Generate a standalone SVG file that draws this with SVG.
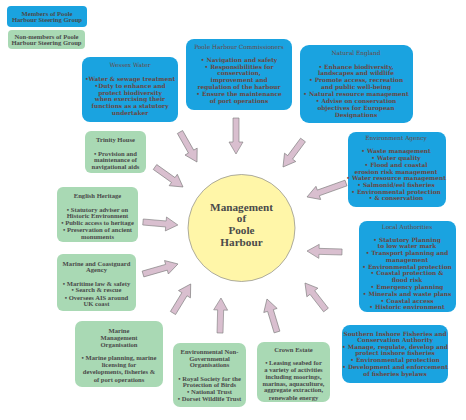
<svg xmlns="http://www.w3.org/2000/svg" width="466" height="420" viewBox="0 0 466 420">
<style>
.bb{fill:#1aa3e0}
.gb{fill:#a9d9b4}
.arr{fill:#d9bfcf;stroke:#7a7a7a;stroke-width:0.6}
text{text-anchor:middle}
.b{font-family:"DejaVu Serif",serif;font-weight:bold;font-size:5.8px;fill:#6a4640}
.bt{font-family:"DejaVu Serif",serif;font-size:5.8px;fill:#6a4640}
.g{font-family:"Liberation Serif",serif;font-weight:bold;font-size:6.6px;fill:#4a4a4a}
.c{font-family:"Liberation Serif",serif;font-weight:bold;font-size:11.2px;fill:#4a4a4a}
</style>
<rect width="466" height="420" fill="#ffffff"/>
<g id="legend-members"><rect class="bb" x="7" y="6" width="80" height="21" rx="4"/>
<text class="g" x="47" y="15.5">Members of Poole</text><text class="g" x="47" y="22">Harbour Steering Group</text></g>
<g id="legend-nonmembers"><rect class="gb" x="8" y="30" width="77" height="19" rx="4"/>
<text class="g" x="46.5" y="38.7">Non-members of Poole</text><text class="g" x="46.5" y="45.3">Harbour Steering Group</text></g>
<g id="connectors">
<polygon class="arr" transform="translate(236,118) rotate(90)" points="0,-3 24,-3 24,-7 36,0 24,7 24,3 0,3"/>
<polygon class="arr" transform="translate(180,132) rotate(60.5)" points="0,-3 22.5,-3 22.5,-7 34.5,0 22.5,7 22.5,3 0,3"/>
<polygon class="arr" transform="translate(303,140) rotate(126.5)" points="0,-3 21.6,-3 21.6,-7 33.6,0 21.6,7 21.6,3 0,3"/>
<polygon class="arr" transform="translate(155,167) rotate(35.5)" points="0,-3 22.4,-3 22.4,-7 34.4,0 22.4,7 22.4,3 0,3"/>
<polygon class="arr" transform="translate(346,183) rotate(160.3)" points="0,-3 29.4,-3 29.4,-7 41.4,0 29.4,7 29.4,3 0,3"/>
<polygon class="arr" transform="translate(143,222) rotate(4.9)" points="0,-3 23,-3 23,-7 35,0 23,7 23,3 0,3"/>
<polygon class="arr" transform="translate(342,252) rotate(181.6)" points="0,-3 23,-3 23,-7 35,0 23,7 23,3 0,3"/>
<polygon class="arr" transform="translate(143,274) rotate(-16)" points="0,-3 24.4,-3 24.4,-7 36.4,0 24.4,7 24.4,3 0,3"/>
<polygon class="arr" transform="translate(173,313) rotate(-58.6)" points="0,-3 22,-3 22,-7 34,0 22,7 22,3 0,3"/>
<polygon class="arr" transform="translate(220,333) rotate(-88.4)" points="0,-3 23,-3 23,-7 35,0 23,7 23,3 0,3"/>
<polygon class="arr" transform="translate(277,332) rotate(-106.9)" points="0,-3 22.5,-3 22.5,-7 34.5,0 22.5,7 22.5,3 0,3"/>
<polygon class="arr" transform="translate(326,310) rotate(-127.9)" points="0,-3 22.2,-3 22.2,-7 34.2,0 22.2,7 22.2,3 0,3"/>
</g>
<g id="center"><circle cx="241.5" cy="228" r="53.5" fill="#fff6a8" stroke="#8a8a8a" stroke-width="0.7"/>
<text class="c" x="241.5" y="210.7">Management</text><text class="c" x="241.5" y="222.3">of</text><text class="c" x="241.5" y="234">Poole</text><text class="c" x="241.5" y="245.7">Harbour</text></g>
<g id="wessex-water"><rect class="bb" x="82" y="57" width="96" height="65" rx="8"/>
<text class="bt" x="130" y="67">Wessex Water</text>
<text class="b" x="130" y="81">•Water &amp; sewage treatment</text>
<text class="b" x="130" y="88">•Duty to enhance and</text>
<text class="b" x="130" y="94.7">protect biodiversity</text>
<text class="b" x="130" y="101">when exercising their</text>
<text class="b" x="130" y="108">functions as a statutory</text>
<text class="b" x="130" y="114.7">undertaker</text></g>
<g id="harbour-commissioners"><rect class="bb" x="186" y="39" width="106" height="71" rx="8"/>
<text class="bt" x="239" y="48.7">Poole Harbour Commissioners</text>
<text class="b" x="239" y="62">• Navigation and safety</text>
<text class="b" x="239" y="68.7">• Responsibilities for</text>
<text class="b" x="239" y="75.3">conservation,</text>
<text class="b" x="239" y="82">improvement and</text>
<text class="b" x="239" y="88.7">regulation of the harbour</text>
<text class="b" x="239" y="96.3">• Ensure the maintenance</text>
<text class="b" x="239" y="103">of port operations</text></g>
<g id="natural-england"><rect class="bb" x="300" y="45" width="113" height="78" rx="9"/>
<text class="bt" x="356" y="55.3">Natural England</text>
<text class="b" x="356" y="69.3">• Enhance biodiversity,</text>
<text class="b" x="356" y="75.3">landscapes and wildlife</text>
<text class="b" x="356" y="82">• Promote access, recreation</text>
<text class="b" x="356" y="88.7">and public well-being</text>
<text class="b" x="356" y="96.3">• Natural resource management</text>
<text class="b" x="356" y="103">• Advise on conservation</text>
<text class="b" x="356" y="109.7">objectives for European</text>
<text class="b" x="356" y="117">Designations</text></g>
<g id="environment-agency"><rect class="bb" x="348" y="132" width="98" height="75" rx="8"/>
<text class="bt" x="396" y="140.3">Environment Agency</text>
<text class="b" x="396" y="152.7">• Waste management</text>
<text class="b" x="396" y="160.3">• Water quality</text>
<text class="b" x="396" y="167">• Flood and coastal</text>
<text class="b" x="396" y="173.7">erosion risk management</text>
<text class="b" x="396" y="180.3">• Water resource management</text>
<text class="b" x="396" y="187">• Salmonid/eel fisheries</text>
<text class="b" x="396" y="193.7">• Environmental protection</text>
<text class="b" x="396" y="200.3">• &amp; conservation</text></g>
<g id="local-authorities"><rect class="bb" x="359" y="221" width="97" height="91" rx="8"/>
<text class="bt" x="407" y="228.7">Local Authorities</text>
<text class="b" x="407" y="242">• Statutory Planning</text>
<text class="b" x="407" y="248">to low water mark</text>
<text class="b" x="407" y="255.3">• Transport planning and</text>
<text class="b" x="407" y="262">management</text>
<text class="b" x="407" y="269.3">• Environmental protection</text>
<text class="b" x="407" y="275.3">• Coastal protection &amp;</text>
<text class="b" x="407" y="282">flood risk</text>
<text class="b" x="407" y="289.3">• Emergency planning</text>
<text class="b" x="407" y="296">• Minerals and waste plans</text>
<text class="b" x="407" y="302.7">• Coastal access</text>
<text class="b" x="407" y="309.3">• Historic environment</text></g>
<g id="southern-ifca"><rect class="bb" x="342" y="325" width="106" height="58" rx="8"/>
<text class="b" x="395" y="336">Southern Inshore Fisheries and</text>
<text class="b" x="395" y="342">Conservation Authority</text>
<text class="b" x="395" y="349.3">• Manage, regulate, develop and</text>
<text class="b" x="395" y="355.3">protect inshore fisheries</text>
<text class="b" x="395" y="362">• Environmental protection</text>
<text class="b" x="395" y="369.3">• Development and enforcement</text>
<text class="b" x="395" y="376">of fisheries byelaws</text></g>
<g id="trinity-house"><rect class="gb" x="85" y="131" width="61" height="42" rx="6"/>
<text class="g" x="115.5" y="142.3">Trinity House</text>
<text class="g" x="115.5" y="155.6">• Provision and</text>
<text class="g" x="115.5" y="162.3">maintenance of</text>
<text class="g" x="115.5" y="169">navigational aids</text></g>
<g id="english-heritage"><rect class="gb" x="57" y="187" width="81" height="55" rx="6"/>
<text class="g" x="97.5" y="198.3">English Heritage</text>
<text class="g" x="97.5" y="211.6">• Statutory adviser on</text>
<text class="g" x="97.5" y="218.3">Historic Environment</text>
<text class="g" x="97.5" y="225">• Public access to heritage</text>
<text class="g" x="97.5" y="232.3">• Preservation of ancient</text>
<text class="g" x="97.5" y="239">monuments</text></g>
<g id="coastguard"><rect class="gb" x="57" y="254" width="79" height="57" rx="6"/>
<text class="g" x="96.5" y="265.6">Marine and Coastguard</text>
<text class="g" x="96.5" y="272.3">Agency</text>
<text class="g" x="96.5" y="286.3">• Maritime law &amp; safety</text>
<text class="g" x="96.5" y="292.3">• Search &amp; rescue</text>
<text class="g" x="96.5" y="299.6">• Oversees AIS around</text>
<text class="g" x="96.5" y="306.3">UK coast</text></g>
<g id="mmo"><rect class="gb" x="75" y="321" width="88" height="66" rx="7"/>
<text class="g" x="119" y="333.3">Marine</text>
<text class="g" x="119" y="340">Management</text>
<text class="g" x="119" y="346.6">Organisation</text>
<text class="g" x="119" y="360">• Marine planning, marine</text>
<text class="g" x="119" y="366.6">licensing for</text>
<text class="g" x="119" y="374">developments, fisheries &amp;</text>
<text class="g" x="119" y="381.6">of port operations</text></g>
<g id="env-ngos"><rect class="gb" x="173" y="343" width="73" height="64" rx="7"/>
<text class="g" x="209.5" y="354">Environmental Non-</text>
<text class="g" x="209.5" y="360.6">Governmental</text>
<text class="g" x="209.5" y="367.3">Organisations</text>
<text class="g" x="209.5" y="380.6">• Royal Society for the</text>
<text class="g" x="209.5" y="387.3">Protection of Birds</text>
<text class="g" x="209.5" y="394">• National Trust</text>
<text class="g" x="209.5" y="401.3">• Dorset Wildlife Trust</text></g>
<g id="crown-estate"><rect class="gb" x="257" y="342" width="73" height="60" rx="7"/>
<text class="g" x="293.5" y="351.6">Crown Estate</text>
<text class="g" x="293.5" y="365">• Leasing seabed for</text>
<text class="g" x="293.5" y="372.3">a variety of activities</text>
<text class="g" x="293.5" y="379">including moorings,</text>
<text class="g" x="293.5" y="385.6">marinas, aquaculture,</text>
<text class="g" x="293.5" y="392.3">aggregate extraction,</text>
<text class="g" x="293.5" y="399.6">renewable energy</text></g>
</svg>
